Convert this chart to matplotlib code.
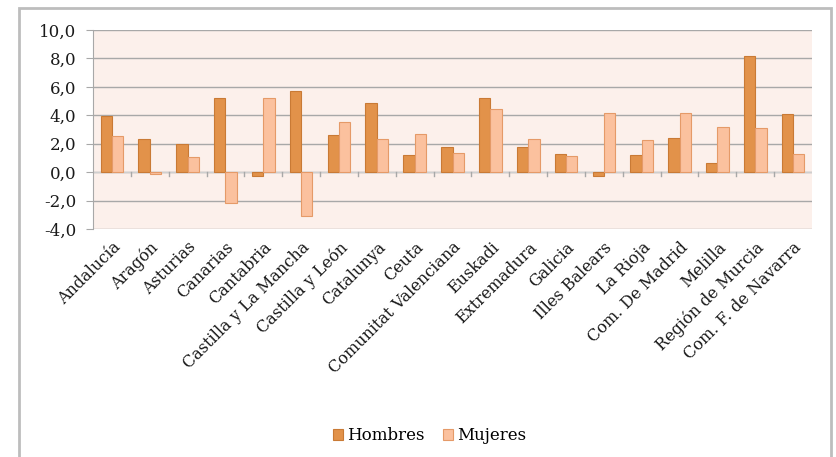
import matplotlib.pyplot as plt
import matplotlib.patches as mpatches
import numpy as np
from matplotlib.ticker import FuncFormatter

# Datos
comunidades = ['Andalucía', 'Aragón', 'Asturias', 'Canarias', 'Cantabria',
               'Castilla y La Mancha', 'Castilla y León', 'Catalunya', 'Ceuta',
               'Comunitat Valenciana', 'Euskadi', 'Extremadura', 'Galicia',
               'Illes Balears', 'La Rioja', 'Com. De Madrid', 'Melilla',
               'Región de Murcia', 'Com. F. de Navarra']
hombres = [3.95, 2.3, 1.95, 5.2, -0.25, 5.7, 2.6, 4.85, 1.2, 1.75, 5.2, 1.8,
           1.3, -0.3, 1.2, 2.4, 0.65, 8.2, 4.1]
mujeres = [2.55, -0.1, 1.05, -2.15, 5.2, -3.1, 3.5, 2.3, 2.7, 1.35, 4.45, 2.3,
           1.15, 4.15, 2.25, 4.15, 3.2, 3.1, 1.25]

color_h = '#E2924A'
edge_h = '#C97A35'
color_m = '#FBC19E'
edge_m = '#E59A68'

plt.rcParams['font.family'] = ['DejaVu Serif']

fig = plt.figure(figsize=(8.36, 4.57), dpi=100)

# Marco exterior del gráfico
marco = mpatches.Rectangle((19 / 836, -0.05), (831 - 19) / 836, 1 - 8 / 457 + 0.05,
                           transform=fig.transFigure, fill=False,
                           edgecolor='#BDBDBD', linewidth=2, zorder=0)
fig.patches.append(marco)

ax = fig.add_axes([93 / 836, 1 - 229 / 457, (812 - 93) / 836, (229 - 30) / 457])
ax.set_facecolor('#FCF0EB')

x = np.arange(len(comunidades))
w = 0.3
ax.bar(x - w / 2, hombres, w, color=color_h, edgecolor=edge_h, linewidth=0.8,
       label='Hombres', zorder=3)
ax.bar(x + w / 2, mujeres, w, color=color_m, edgecolor=edge_m, linewidth=0.8,
       label='Mujeres', zorder=3)

ax.set_xlim(-0.5, len(comunidades) - 0.5)
ax.set_ylim(-4, 10)
ax.set_yticks(np.arange(-4, 10.1, 2))
ax.yaxis.set_major_formatter(FuncFormatter(lambda v, p: f'{v:.1f}'.replace('.', ',')))
ax.grid(axis='y', color='#A8A8A8', linewidth=1, zorder=1)
ax.axhline(0, color='#CFCFCF', linewidth=1, zorder=2)

# Marcas en la línea de cero entre categorías
for b in np.arange(0.5, len(comunidades) - 0.5, 1):
    ax.plot([b, b], [0, -0.25], color='#A8A8A8', linewidth=1, zorder=2)

for s in ['top', 'right', 'bottom']:
    ax.spines[s].set_visible(False)
ax.spines['left'].set_color('#A8A8A8')

ax.tick_params(axis='y', length=5, color='#A8A8A8', labelsize=12,
               labelcolor='#1a1a1a', pad=7)
ax.set_xticks(x)
ax.set_xticklabels(comunidades, rotation=45, ha='right', va='top',
                   rotation_mode='anchor', fontsize=11.5, color='#1a1a1a')
ax.tick_params(axis='x', length=0, pad=7)

fig.legend(loc='center', bbox_to_anchor=(430 / 836, 1 - 436 / 457), ncol=2,
           frameon=False, fontsize=12, handlelength=0.6, handleheight=0.6,
           handletextpad=0.25, columnspacing=1.1)

fig.savefig('out.png', dpi=100)
